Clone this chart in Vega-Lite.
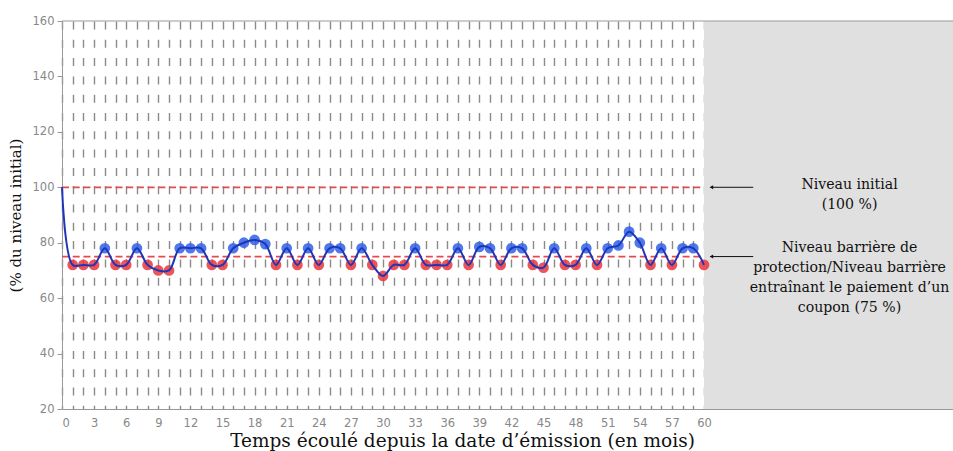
{
  "$schema": "https://vega.github.io/schema/vega-lite/v6.json",
  "width": 891,
  "height": 388,
  "autosize": {"type": "none"},
  "padding": {"left": 62, "top": 21, "right": 0, "bottom": 42},
  "background": "white",
  "config": {
    "view": {"stroke": null},
    "axis": {
      "grid": false, "domainColor": "#999", "tickColor": "#999",
      "labelColor": "#888", "labelFont": "DejaVu Sans", "labelFontSize": 11.5,
      "titleFont": "DejaVu Serif", "titleFontWeight": "normal", "titleColor": "#111"
    }
  },
  "datasets": {
    "serie": [
      {"mois": 0, "valeur": 100, "position": "haut"},
      {"mois": 1, "valeur": 72, "position": "bas"},
      {"mois": 2, "valeur": 72, "position": "bas"},
      {"mois": 3, "valeur": 72, "position": "bas"},
      {"mois": 4, "valeur": 78, "position": "haut"},
      {"mois": 5, "valeur": 72, "position": "bas"},
      {"mois": 6, "valeur": 72, "position": "bas"},
      {"mois": 7, "valeur": 78, "position": "haut"},
      {"mois": 8, "valeur": 72, "position": "bas"},
      {"mois": 9, "valeur": 70, "position": "bas"},
      {"mois": 10, "valeur": 70, "position": "bas"},
      {"mois": 11, "valeur": 78, "position": "haut"},
      {"mois": 12, "valeur": 78, "position": "haut"},
      {"mois": 13, "valeur": 78, "position": "haut"},
      {"mois": 14, "valeur": 72, "position": "bas"},
      {"mois": 15, "valeur": 72, "position": "bas"},
      {"mois": 16, "valeur": 78, "position": "haut"},
      {"mois": 17, "valeur": 80, "position": "haut"},
      {"mois": 18, "valeur": 81, "position": "haut"},
      {"mois": 19, "valeur": 79.5, "position": "haut"},
      {"mois": 20, "valeur": 72, "position": "bas"},
      {"mois": 21, "valeur": 78, "position": "haut"},
      {"mois": 22, "valeur": 72, "position": "bas"},
      {"mois": 23, "valeur": 78, "position": "haut"},
      {"mois": 24, "valeur": 72, "position": "bas"},
      {"mois": 25, "valeur": 78, "position": "haut"},
      {"mois": 26, "valeur": 78, "position": "haut"},
      {"mois": 27, "valeur": 72, "position": "bas"},
      {"mois": 28, "valeur": 78, "position": "haut"},
      {"mois": 29, "valeur": 72, "position": "bas"},
      {"mois": 30, "valeur": 68, "position": "bas"},
      {"mois": 31, "valeur": 72, "position": "bas"},
      {"mois": 32, "valeur": 72, "position": "bas"},
      {"mois": 33, "valeur": 78, "position": "haut"},
      {"mois": 34, "valeur": 72, "position": "bas"},
      {"mois": 35, "valeur": 72, "position": "bas"},
      {"mois": 36, "valeur": 72, "position": "bas"},
      {"mois": 37, "valeur": 78, "position": "haut"},
      {"mois": 38, "valeur": 72, "position": "bas"},
      {"mois": 39, "valeur": 78.5, "position": "haut"},
      {"mois": 40, "valeur": 78, "position": "haut"},
      {"mois": 41, "valeur": 72, "position": "bas"},
      {"mois": 42, "valeur": 78, "position": "haut"},
      {"mois": 43, "valeur": 78, "position": "haut"},
      {"mois": 44, "valeur": 72, "position": "bas"},
      {"mois": 45, "valeur": 71, "position": "bas"},
      {"mois": 46, "valeur": 78, "position": "haut"},
      {"mois": 47, "valeur": 72, "position": "bas"},
      {"mois": 48, "valeur": 72, "position": "bas"},
      {"mois": 49, "valeur": 78, "position": "haut"},
      {"mois": 50, "valeur": 72, "position": "bas"},
      {"mois": 51, "valeur": 78, "position": "haut"},
      {"mois": 52, "valeur": 79, "position": "haut"},
      {"mois": 53, "valeur": 84, "position": "haut"},
      {"mois": 54, "valeur": 80, "position": "haut"},
      {"mois": 55, "valeur": 72, "position": "bas"},
      {"mois": 56, "valeur": 78, "position": "haut"},
      {"mois": 57, "valeur": 72, "position": "bas"},
      {"mois": 58, "valeur": 78, "position": "haut"},
      {"mois": 59, "valeur": 78, "position": "haut"},
      {"mois": 60, "valeur": 72, "position": "bas"}
    ],
    "niveaux": [
      {"mois": 0, "mois_fin": 60, "valeur": 100},
      {"mois": 0, "mois_fin": 60, "valeur": 75}
    ],
    "fleches": [
      {"mois": 60.6, "mois_fin": 64.6, "valeur": 100},
      {"mois": 60.6, "mois_fin": 64.6, "valeur": 75}
    ],
    "zone": [{"mois": 60, "mois_fin": 83.27, "valeur": 20, "valeur_fin": 160}],
    "cadre": [{"mois": 0, "mois_fin": 83.27, "valeur": 160}],
    "notes": [
      {"mois": 73.6, "valeur": 103.3, "texte": "Niveau initial\n(100 %)"},
      {"mois": 73.6, "valeur": 80.6, "texte": "Niveau barrière de\nprotection/Niveau barrière\nentraînant le paiement d’un\ncoupon (75 %)"}
    ]
  },
  "encoding": {
    "x": {
      "field": "mois", "type": "quantitative",
      "scale": {"domain": [0, 83.27], "nice": false, "zero": false},
      "axis": {
        "values": [0, 1, 2, 3, 4, 5, 6, 7, 8, 9, 10, 11, 12, 13, 14, 15, 16, 17, 18, 19, 20, 21, 22, 23, 24, 25, 26, 27, 28, 29, 30, 31, 32, 33, 34, 35, 36, 37, 38, 39, 40, 41, 42, 43, 44, 45, 46, 47, 48, 49, 50, 51, 52, 53, 54, 55, 56, 57, 58, 59, 60],
        "labelExpr": "datum.value % 3 === 0 ? datum.label : ''",
        "labelOverlap": false,
        "title": "Temps écoulé depuis la date d’émission (en mois)",
        "grid": true, "gridColor": "#8a8a8a", "gridWidth": 1.4, "gridDash": [8, 10.3], "gridOpacity": 1,
        "ticks": false, "labelPadding": 8,
        "titleFontSize": 18.5,
        "titleX": 400, "titleY": 37, "titleBaseline": "alphabetic", "titleAlign": "center"
      }
    },
    "y": {
      "field": "valeur", "type": "quantitative",
      "scale": {"domain": [20, 160], "nice": false, "zero": false},
      "axis": {
        "values": [20, 40, 60, 80, 100, 120, 140, 160],
        "title": "(% du niveau initial)",
        "grid": false, "ticks": true, "tickSize": 5, "labelPadding": 3,
        "titleFontSize": 15, "titlePadding": 9
      }
    }
  },
  "layer": [
    {
      "data": {"name": "zone"},
      "mark": {"type": "rect", "color": "#e0e0e0"},
      "encoding": {"x2": {"field": "mois_fin"}, "y2": {"field": "valeur_fin"}}
    },
    {
      "data": {"name": "niveaux"},
      "mark": {"type": "rule", "color": "#e5484d", "strokeWidth": 1.8, "strokeDash": [7, 3.7]},
      "encoding": {"x2": {"field": "mois_fin"}}
    },
    {
      "data": {"name": "serie"},
      "transform": [{"filter": "datum.mois > 0"}],
      "mark": {"type": "circle", "size": 115, "opacity": 0.85},
      "encoding": {
        "color": {"field": "position", "type": "nominal", "scale": {"domain": ["haut", "bas"], "range": ["#2f60e8", "#e8373c"]}, "legend": null}
      }
    },
    {
      "data": {"name": "serie"},
      "mark": {"type": "line", "color": "#1f35b8", "strokeWidth": 2, "interpolate": "catmull-rom"}
    },
    {
      "data": {"name": "fleches"},
      "mark": {"type": "rule", "color": "#111", "strokeWidth": 1},
      "encoding": {"x2": {"field": "mois_fin"}}
    },
    {
      "data": {"name": "fleches"},
      "mark": {"type": "point", "shape": "triangle-left", "filled": true, "color": "#111", "size": 16, "opacity": 1, "xOffset": 1}
    },
    {
      "data": {"name": "notes"},
      "mark": {"type": "text", "align": "center", "baseline": "top", "font": "DejaVu Serif", "fontSize": 14.1, "lineHeight": 20, "lineBreak": "\n", "color": "#111"},
      "encoding": {"text": {"field": "texte"}}
    },
    {
      "data": {"name": "cadre"},
      "mark": {"type": "rule", "color": "#999", "strokeWidth": 1},
      "encoding": {"x2": {"field": "mois_fin"}}
    }
  ]
}
